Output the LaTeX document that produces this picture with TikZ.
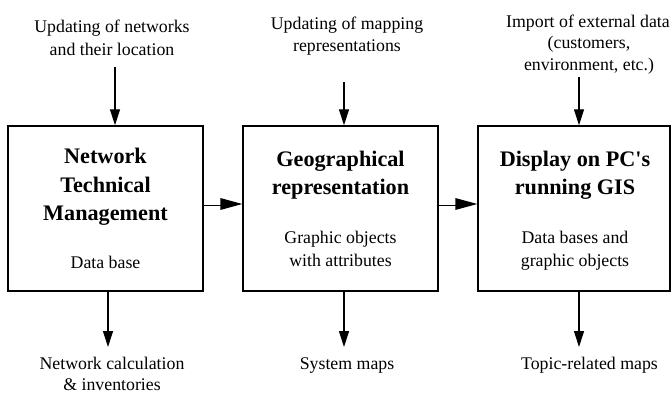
\documentclass[tikz,border=0pt]{standalone}
\usepackage{fontspec}
\setmainfont{Liberation Serif}[Ligatures=TeXOff]
\newfontfamily\tms[Ligatures=TeXOff]{Liberation Serif}
\usetikzlibrary{arrows.meta}
\begin{document}
\begin{tikzpicture}[x=1pt,y=-1pt,
  box/.style={draw,line width=1.4pt,minimum width=195pt,minimum height=165pt,inner sep=0pt},
  txt/.style={anchor=base,inner sep=0pt,font=\tms\fontsize{17.8}{21}\selectfont},
  ttl/.style={anchor=base,inner sep=0pt,font=\tms\fontsize{22.2}{28}\selectfont\bfseries},
  arr/.style={line width=1.1pt,-{Triangle[length=16pt,width=10pt]}},
  dblout/.style={line width=3pt,line cap=butt},
  dblin/.style={white,line width=1.2pt,line cap=butt},
  dtip/.style={fill=black}]
\useasboundingbox (0,0) rectangle (671,394);
% boxes
\node[box] (b1) at (105.5,208.5) {};
\node[box] (b2) at (340.5,208.5) {};
\node[box,minimum width=192pt] (b3) at (574,208.5) {};
% box 1 text
\node[ttl] (n1a) at (105.5,163) {Network};
\node[ttl] (n1b) at (105.5,192) {Technical};
\node[ttl] (n1c) at (105.5,220) {Management};
\node[txt] (n1d) at (105.5,268) {Data base};
% box 2 text
\node[ttl] (n2a) at (340.5,166) {Geographical};
\node[ttl] (n2b) at (340.5,194) {representation};
\node[txt] (n2c) at (340.5,243) {Graphic objects};
\node[txt] (n2d) at (340.5,266) {with attributes};
% box 3 text
\node[ttl] (n3a) at (575,166) {Display on PC's};
\node[ttl] (n3b) at (575,194) {running GIS};
\node[txt] (n3c) at (575,243) {Data bases and};
\node[txt] (n3d) at (575,266) {graphic objects};
% top labels
\node[txt] (t1a) at (112,32.5) {Updating of networks};
\node[txt] (t1b) at (112,55) {and their location};
\node[txt] (t2a) at (347,29.5) {Updating of mapping};
\node[txt] (t2b) at (347,51) {representations};
\node[txt] (t3a) at (588,27) {Import of external data};
\node[txt] (t3b) at (589,48.5) {(customers,};
\node[txt] (t3c) at (589,70) {environment, etc.)};
% bottom labels
\node[txt] (u1a) at (112,369) {Network calculation};
\node[txt] (u1b) at (112,390) {\& inventories};
\node[txt] (u2) at (347,369) {System maps};
\node[txt] (u3) at (589.5,369) {Topic-related maps};
% top arrows
\coordinate (s1) at (115,67);
\coordinate (s2) at (344,82);
\coordinate (s3) at (579,77);
\draw[arr] (s1) -- (s1 |- b1.north);
\draw[arr] (s2) -- (s2 |- b2.north);
\draw[arr] (s3) -- (s3 |- b3.north);
% bottom arrows
\coordinate (e1) at (108,347);
\coordinate (e2) at (344,347);
\coordinate (e3) at (579,347);
\draw[arr] (e1 |- b1.south) -- (e1);
\draw[arr] (e2 |- b2.south) -- (e2);
\draw[arr] (e3 |- b3.south) -- (e3);
% double arrows
\coordinate (d1s) at ([yshift=4.5pt]b1.east);
\coordinate (d1e) at ([yshift=4.5pt]b2.west);
\coordinate (d1m) at ([xshift=-20pt]d1e);
\coordinate (d2s) at ([yshift=4.5pt]b2.east);
\coordinate (d2e) at ([yshift=4.5pt]b3.west);
\coordinate (d2m) at ([xshift=-20pt]d2e);
\draw[dblout] (d1s) -- (d1m);
\draw[dblin] (d1s) -- (d1m);
\fill[dtip] (d1e) -- ++(-22,-6) -- ++(0,12) -- cycle;
\draw[dblout] (d2s) -- (d2m);
\draw[dblin] (d2s) -- (d2m);
\fill[dtip] (d2e) -- ++(-22,-6) -- ++(0,12) -- cycle;
\end{tikzpicture}
\end{document}
